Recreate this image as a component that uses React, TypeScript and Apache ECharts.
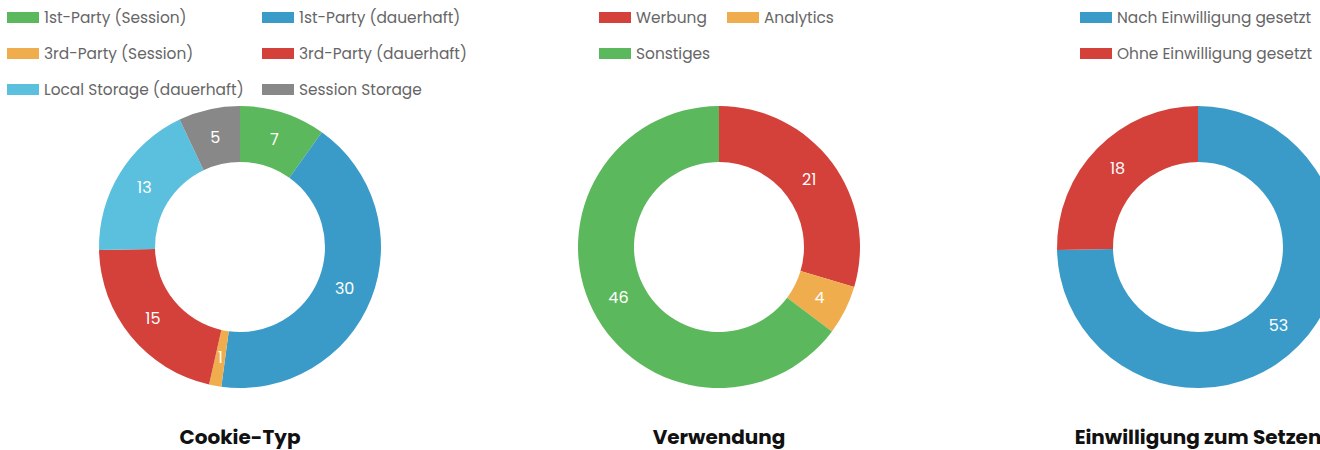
import React, { useEffect, useRef } from "react";
import * as echarts from "echarts";

const FONT = "Poppins, 'Noto Sans', sans-serif";

const cookieTypNames = [
  "1st-Party (Session)",
  "1st-Party (dauerhaft)",
  "3rd-Party (Session)",
  "3rd-Party (dauerhaft)",
  "Local Storage (dauerhaft)",
  "Session Storage",
];
const cookieTypValues = [7, 30, 1, 15, 13, 5];
const cookieTypColors = ["#5cb85c", "#3a9bc9", "#f0ad4e", "#d4403a", "#5bc0de", "#888888"];

const verwendungNames = ["Werbung", "Analytics", "Sonstiges"];
const verwendungValues = [21, 4, 46];
const verwendungColors = ["#d4403a", "#f0ad4e", "#5cb85c"];

const einwilligungNames = ["Nach Einwilligung gesetzt", "Ohne Einwilligung gesetzt"];
const einwilligungValues = [53, 18];
const einwilligungColors = ["#3a9bc9", "#d4403a"];

const titles = ["Cookie-Typ", "Verwendung", "Einwilligung zum Setzen"];

const centersX = [240, 719, 1198];
const centerY = 247;

function buildData(names: string[], values: number[], colors: string[]) {
  return names.map((n, i) => ({ name: n, value: values[i], itemStyle: { color: colors[i] } }));
}

function legendCol(left: number, data: string[]) {
  return {
    orient: "vertical",
    left,
    top: 10,
    padding: 0,
    itemWidth: 32,
    itemHeight: 11,
    itemGap: 21,
    icon: "rect",
    selectedMode: false,
    data,
    textStyle: { color: "#666666", fontSize: 15.4, lineHeight: 15, fontFamily: FONT },
  };
}

export default function App() {
  const ref = useRef<HTMLDivElement>(null);
  useEffect(() => {
    if (!ref.current) return;
    const chart = echarts.init(ref.current, undefined, { renderer: "svg" });
    const pieBase = (cx: number, data: any[]) => ({
      type: "pie",
      center: [cx, centerY],
      radius: [85, 141],
      startAngle: 90,
      clockwise: true,
      avoidLabelOverlap: false,
      silent: true,
      label: { show: false },
      labelLine: { show: false },
      emphasis: { disabled: true },
      data,
    });
    const pieLabels = (cx: number, data: any[]) => ({
      type: "pie",
      center: [cx, centerY],
      radius: [78, 141],
      startAngle: 90,
      clockwise: true,
      avoidLabelOverlap: false,
      silent: true,
      z: 5,
      itemStyle: { color: "rgba(0,0,0,0)" },
      label: {
        show: true,
        position: "inside",
        color: "#ffffff",
        fontSize: 16,
        fontFamily: FONT,
        formatter: "{c}",
      },
      labelLine: { show: false },
      emphasis: { disabled: true },
      data: data.map((d) => ({ name: d.name, value: d.value })),
    });
    const d1 = buildData(cookieTypNames, cookieTypValues, cookieTypColors);
    const d2 = buildData(verwendungNames, verwendungValues, verwendungColors);
    const d3 = buildData(einwilligungNames, einwilligungValues, einwilligungColors);
    chart.setOption({
      animation: false,
      legend: [
        legendCol(7, [cookieTypNames[0], cookieTypNames[2], cookieTypNames[4]]),
        legendCol(262, [cookieTypNames[1], cookieTypNames[3], cookieTypNames[5]]),
        legendCol(599, [verwendungNames[0], verwendungNames[2]]),
        legendCol(727, [verwendungNames[1]]),
        legendCol(1080, einwilligungNames),
      ],
      series: [
        pieBase(centersX[0], d1),
        pieBase(centersX[1], d2),
        pieBase(centersX[2], d3),
        pieLabels(centersX[0], d1),
        pieLabels(centersX[1], d2),
        pieLabels(centersX[2], d3),
      ],
      graphic: titles.map((t, i) => ({
        type: "text",
        x: centersX[i],
        y: 437,
        style: {
          text: t,
          fill: "#111111",
          fontSize: 20,
          fontWeight: "bold",
          fontFamily: FONT,
          textAlign: "center",
          textVerticalAlign: "middle",
        },
      })),
    });
    return () => chart.dispose();
  }, []);
  return (
    <div
      ref={ref}
      style={{ position: "absolute", left: 0, top: 0, width: 1320, height: 450, background: "#fff" }}
    />
  );
}
